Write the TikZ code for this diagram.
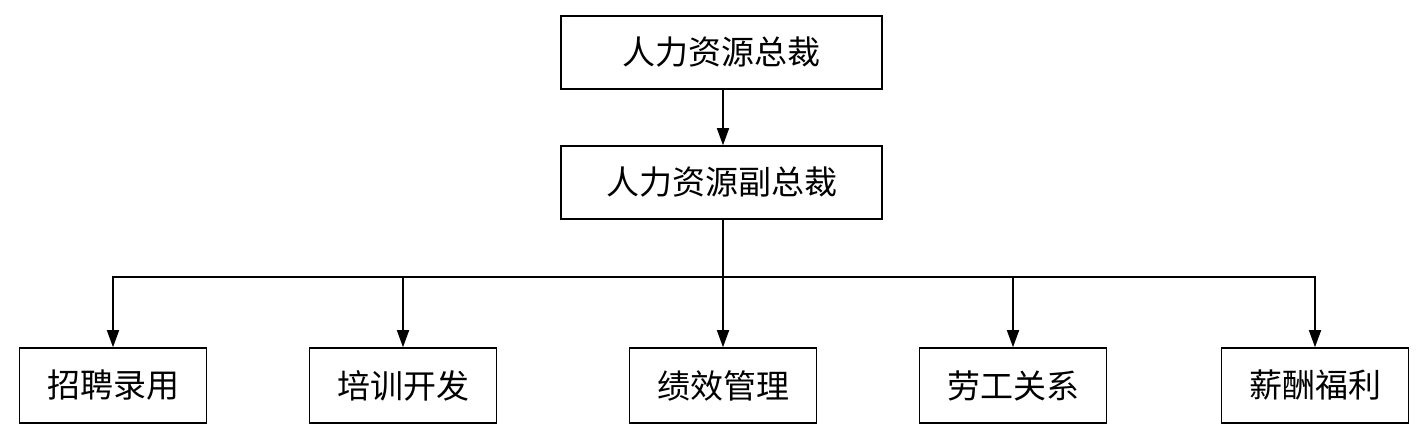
\documentclass[tikz,border=0pt]{standalone}
\usepackage{fontspec}
\usepackage{tikz}
\usetikzlibrary{positioning,arrows.meta}
\newfontfamily\cjk{Noto Sans CJK SC}

\begin{document}
\begin{tikzpicture}[x=1pt,y=1pt,line width=1.5pt,
    box/.style={draw,minimum width=321pt,minimum height=73pt,inner sep=0pt,font=\cjk\fontsize{33}{38}\selectfont},
    dept/.style={box,minimum width=187pt,minimum height=75pt},
    link/.style={-{Triangle[length=17pt,width=12pt]}}]
        \useasboundingbox (0,0) rectangle (1425,430);
        \node[box] (pres) at (721.5,377.5) {人力资源总裁};
        \node[box] (vp) at (721.5,247.5) {人力资源副总裁};
        \coordinate (bus) at (723,153);
        \node[dept] (recruit) at (113,44.5) {招聘录用};
        \node[dept] (train) at (403,44.5) {培训开发};
        \node[dept] (perf) at (723,44.5) {绩效管理};
        \node[dept] (labor) at (1013,44.5) {劳工关系};
        \node[dept] (pay) at (1315,44.5) {薪酬福利};
        \draw[link] (pres.south -| bus) -- (vp.north -| bus);
        \draw (vp.south -| bus) -- (bus);
        \foreach \d in {recruit,train,perf,labor,pay}
          \draw[link] (bus) -| (\d.north);
      \end{tikzpicture}
\end{document}
